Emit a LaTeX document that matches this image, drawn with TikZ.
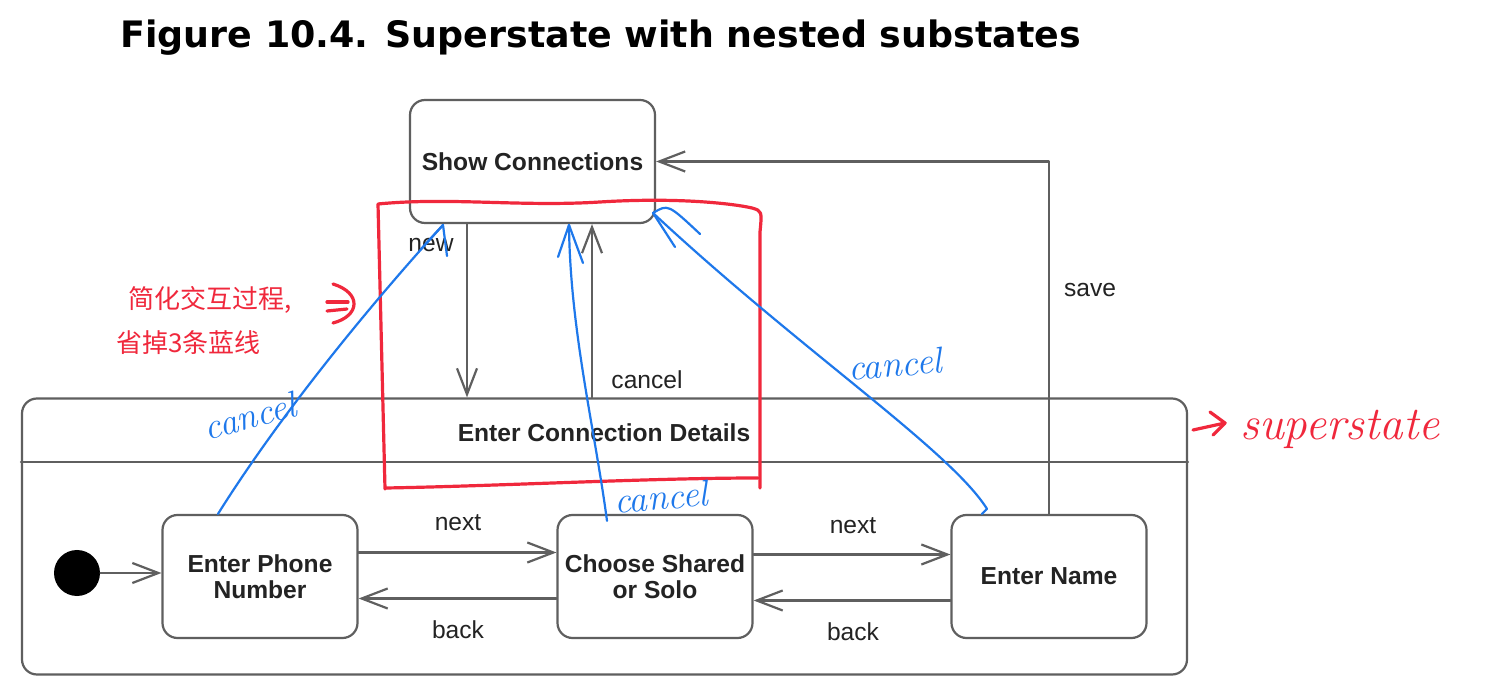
\documentclass[tikz,border=0pt]{standalone}
\usepackage{fontspec}
\newfontfamily\sansfont{Liberation Sans}
\newfontfamily\headfont{DejaVu Sans}
\newfontfamily\cjk{Noto Sans CJK SC}
\usetikzlibrary{arrows.meta,calc}

\begin{document}
\begin{tikzpicture}[x=0.5pt,y=-0.5pt,line cap=round,line join=round]
  % ----- styles & colors -----
  \definecolor{linegray}{RGB}{95,95,95}
  \definecolor{inkgray}{RGB}{35,35,35}
  \definecolor{penred}{RGB}{240,40,60}
  \definecolor{penblue}{RGB}{30,120,235}
  \tikzset{
    state/.style={draw=linegray,line width=1.1pt,rounded corners=7.5pt,fill=white,
      align=center,inner sep=0pt,text=inkgray,
      font=\sansfont\bfseries\fontsize{12.3}{13}\selectfont},
    substate/.style={state,minimum width=97.5pt,minimum height=61.5pt},
    trans/.style={draw=linegray,line width=1.1pt,-{Straight Barb[length=13pt,width=10pt]}},
    lbl/.style={text=inkgray,inner sep=0pt,font=\sansfont\fontsize{12.3}{13}\selectfont},
    redpen/.style={draw=penred,line width=1.6pt},
    bluepen/.style={draw=penblue,line width=1.1pt},
    hand/.style={inner sep=0pt,font=\itshape\fontsize{18.5}{20}\selectfont}
  }

  % ----- page -----
  \useasboundingbox (0,0) rectangle (1493,699);
  \fill[white] (0,0) rectangle (1493,699);

  % ----- title -----
  \node (title) [anchor=base west,inner sep=0pt,
    font=\headfont\bfseries\fontsize{18.2}{20}\selectfont]
    at (120,48) {Figure 10.4. Superstate with nested substates};

  % ----- superstate -----
  \node (super) [state,minimum width=582.5pt,minimum height=138pt] at (604.5,536.5) {};
  \node (superlbl) [lbl,font=\sansfont\bfseries\fontsize{12.3}{13}\selectfont]
    at (604,433) {Enter Connection Details};
  \draw[draw=linegray,line width=1.1pt] (super.west |- 0,462) -- (super.east |- 0,462);

  % save goes out of the superstate
  \node (show) [state,minimum width=122.5pt,minimum height=61.5pt] at (532.5,161.5) {Show Connections};
  \node (name) [substate] at (1049,576.5) {Enter Name};
  \draw[trans] (name.north) |- (show.east);

  % ----- substates -----
  \node (phone) [substate] at (260,576.5) {Enter Phone\\Number};
  \node (choose) [substate] at (655,576.5) {Choose Shared\\or Solo};
  \node (init) [circle,fill=black,inner sep=0pt,minimum size=23pt] at (77,573) {};

  % ----- transitions -----
  \coordinate (newx) at (467,0);
  \coordinate (cancelx) at (592,0);
  \draw[trans] (show.south -| newx) -- (super.north -| newx);
  \draw[trans] (super.north -| cancelx) -- (show.south -| cancelx);
  \draw[trans] (init) -- (phone.west |- init);
  \draw[trans] ([yshift=12pt]phone.east) -- ([yshift=12pt]choose.west);
  \draw[trans] ([yshift=-11pt]choose.west) -- ([yshift=-11pt]phone.east);
  \draw[trans] ([yshift=11pt]choose.east) -- ([yshift=11pt]name.west);
  \draw[trans] ([yshift=-12pt]name.west) -- ([yshift=-12pt]choose.east);

  \node (newlbl) [lbl] at (431,245) {new};
  \node (cancellbl) [lbl] at (647,380) {cancel};
  \node (savelbl) [lbl] at (1090,290) {save};
  \node (nextA) [lbl] at (458,523) {next};
  \node (backA) [lbl] at (458,630) {back};
  \node (nextB) [lbl] at (853,526) {next};
  \node (backB) [lbl] at (853,632) {back};

  % ----- red pen notes -----
  \draw[redpen] (385,489) -- (378,204) .. controls (450,197) and (520,207) .. (600,202)
    .. controls (680,197) and (735,204) .. (752,208) .. controls (762,211) .. (760,232) -- (760,488);
  \draw[redpen] (386,488) .. controls (500,486) and (650,478) .. (758,478);
  \node (noteA) [anchor=west,inner sep=0pt,text=penred,font=\cjk\fontsize{13}{14}\selectfont]
    at (128,300) {简化交互过程,};
  \node (noteB) [anchor=west,inner sep=0pt,text=penred,font=\cjk\fontsize{13}{14}\selectfont]
    at (116,343) {省掉3条蓝线};
  % the => sign
  \draw[redpen] (327,302) -- (348,302);
  \draw[redpen] (327,311) -- (347,309);
  \draw[redpen] (333,284) .. controls (362,293) and (360,316) .. (333,323);
  % superstate tag
  \draw[redpen] (1193,430) -- (1225,423);
  \draw[redpen] (1210,412) -- (1225,423) -- (1213,435);
  \node (tag) [hand,anchor=base west,text=penred,font=\itshape\fontsize{23.5}{24}\selectfont]
    at (1240,440) {superstate};

  % ----- blue pen notes -----
  \coordinate (tipA) at (443,225);
  \coordinate (tipB) at (569,225);
  \coordinate (tipC) at (653,213);
  \draw[bluepen] ([xshift=-21pt]phone.north) .. controls (280,415) and (370,305) .. (tipA);
  \draw[bluepen] (tipA) -- (447,256);
  \draw[bluepen] (tipA) -- (421,249);
  \draw[bluepen] ([shift={(-24pt,-3.5pt)}]choose.north) .. controls (595,430) and (570,330) .. (tipB);
  \draw[bluepen] (tipB) -- (558,257);
  \draw[bluepen] (tipB) -- (583,263);
  \draw[bluepen] ([xshift=-33.5pt]name.north) -- ++(5,-5) .. controls (950,450) and (800,350) .. (tipC);
  \draw[bluepen] (tipC) -- (675,247);
  \draw[bluepen] (tipC) .. controls (668,204) .. (700,234);

  \node (cancelA) [hand,text=penblue,rotate=15] at (250,416) {cancel};
  \node (cancelB) [hand,text=penblue,rotate=5] at (661,497) {cancel};
  \node (cancelC) [hand,text=penblue,rotate=5] at (895,364) {cancel};

\end{tikzpicture}
\end{document}
